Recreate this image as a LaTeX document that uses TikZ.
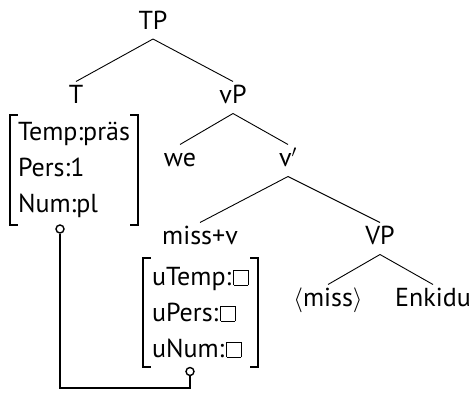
\documentclass[tikz,border=0pt]{standalone}
\usepackage{fontspec}
\setmainfont{PT Sans}
\newcommand\avmbox{\kern2pt\hbox{\vrule width 0.8pt\vbox{\hrule height 0.8pt\hbox to 14pt{\vrule height 14pt depth 0pt width 0pt\hfil}\hrule height 0.8pt}\vrule width 0.8pt}}
\tikzset{
  lbl/.style={inner sep=0pt, outer xsep=0pt, outer ysep=5pt, text height=17pt, text depth=5pt,
              font=\fontsize{26}{36}\selectfont, anchor=base},
  avm/.style={inner sep=0pt, align=left, font=\fontsize{26}{36}\selectfont},
  branch/.style={line width=0.9pt},
  brk/.style={line width=1.5pt},
  conn/.style={line width=1.7pt},
  ring/.style={circle, draw, line width=1.4pt, minimum size=8pt, inner sep=0pt, fill=white}
}
\begin{document}
\begin{tikzpicture}[x=1pt,y=-1pt]
\useasboundingbox (0,0) rectangle (473,394);
% tree labels
\node[lbl] (TP) at (153,29) {TP};
\node[lbl] (T) at (76,103.5) {T};
\node[lbl] (vP) at (233,103.5) {vP};
\node[lbl] (we) at (180,166.5) {we};
\node[lbl] (v1) at (288,166.5) {v$'$};
\node[lbl] (mv) at (200,244.5) {miss+v};
\node[lbl] (VP) at (380,244.5) {VP};
\node[lbl] (miss) at (328,306.5) {$\langle$miss$\rangle$};
\node[lbl] (Enk) at (433,306.5) {Enkidu};
% branches
\draw[branch] (TP.south) -- (T.north);
\draw[branch] (TP.south) -- (vP.north);
\draw[branch] (vP.south) -- (we.north);
\draw[branch] (vP.south) -- (v1.north);
\draw[branch] (v1.south) -- (mv.north);
\draw[branch] (v1.south) -- (VP.north);
\draw[branch] (VP.south) -- (miss.north);
\draw[branch] (VP.south) -- (Enk.north);
% feature structures
\node[avm, minimum width=128pt, minimum height=110pt] (fT) at (74,170) {Temp:präs\\Pers:1\\Num:pl};
\node[avm, minimum width=115pt, minimum height=109pt] (fV) at (200.5,312.5) {uTemp:\avmbox\\uPers:\avmbox\\uNum:\avmbox};
\foreach \f in {fT,fV}{
  \draw[brk] ([xshift=8pt]\f.north west) -- (\f.north west) -- (\f.south west) -- ([xshift=8pt]\f.south west);
  \draw[brk] ([xshift=-8pt]\f.north east) -- (\f.north east) -- (\f.south east) -- ([xshift=-8pt]\f.south east);
}
% agreement connector
\node[ring] (rT) at (60,229) {};
\node[ring] (rV) at (190,371.5) {};
\coordinate (low) at (125,388);
\draw[conn] (rT.south) |- (low) -| (rV.south);
\end{tikzpicture}
\end{document}
